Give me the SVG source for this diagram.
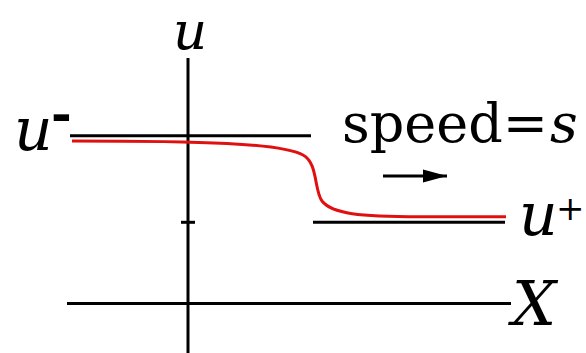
<svg xmlns="http://www.w3.org/2000/svg" width="586" height="353" viewBox="0 0 586 353">
<style>
.ax{stroke:#000;stroke-width:3;fill:none}
.lbl{font-family:'DejaVu Serif',serif;font-size:60px;fill:#000}
.it{font-style:italic}
.curve{stroke:#e01010;stroke-width:3;fill:none}
</style>
<defs>
<marker id="ah" markerWidth="26" markerHeight="14" refX="24" refY="7" orient="auto" markerUnits="userSpaceOnUse">
<polygon points="0,0.5 24,7 0,13.5" fill="#000"/>
</marker>
</defs>
<rect width="586" height="353" fill="#fff"/>
<g id="axes">
<line class="ax" x1="188" y1="58" x2="188" y2="353"/>
<line class="ax" x1="67" y1="303.5" x2="511" y2="303.5"/>
<line class="ax" x1="181" y1="222.3" x2="195" y2="222.3"/>
</g>
<g id="levels">
<line class="ax" x1="70" y1="135.7" x2="311" y2="135.7"/>
<line class="ax" x1="313" y1="222.3" x2="505" y2="222.3"/>
</g>
<g id="wave">
<path class="curve" d="M72,141 C200,141 280,143 303,155 C318,163 314,190 322,201 C332,214 360,216.5 420,216.7 L506,216.7"/>
</g>
<g id="connectors">
<line x1="383" y1="176" x2="447" y2="176" stroke="#000" stroke-width="3" marker-end="url(#ah)"/>
</g>
<g id="labels">
<text class="lbl it" x="173" y="49" style="font-size:53px">u</text>
<text class="lbl it" x="14" y="150">u</text>
<text class="lbl" x="51" y="131" style="font-size:50px;font-weight:bold">-</text>
<text class="lbl" x="342" y="142" style="font-size:54px">speed=</text>
<text class="lbl it" x="550" y="142" style="font-size:54px">s</text>
<text class="lbl it" x="519" y="235">u</text>
<text class="lbl" x="556" y="220" style="font-size:34px">+</text>
<text class="lbl it" x="512" y="325" style="font-size:62px">X</text>
</g>
</svg>
